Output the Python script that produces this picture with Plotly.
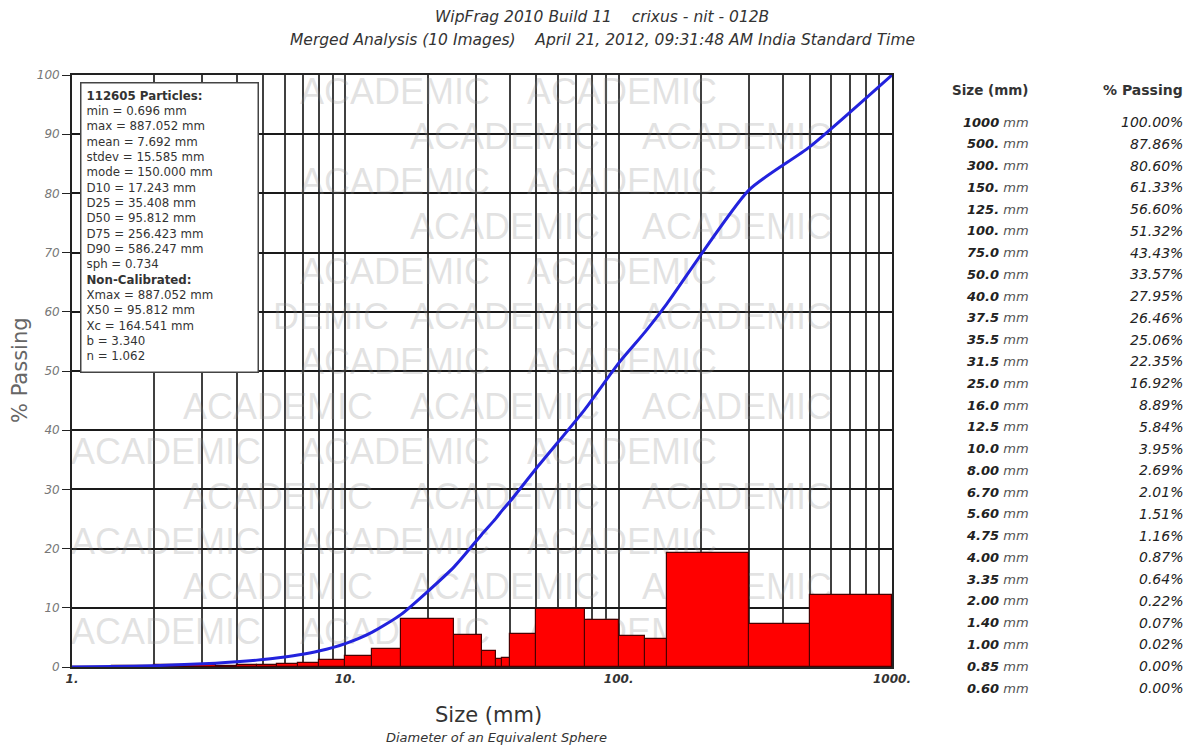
import numpy as np
import plotly.graph_objects as go

# Sieve sizes (mm) and cumulative percent passing, coarse to fine
sizes_mm = [1000, 500, 300, 150, 125, 100, 75.0, 50.0, 40.0, 37.5, 35.5, 31.5,
            25.0, 16.0, 12.5, 10.0, 8.00, 6.70, 5.60, 4.75, 4.00, 3.35, 2.00,
            1.40, 1.00, 0.85, 0.60]
size_labels = ["1000 mm", "500. mm", "300. mm", "150. mm", "125. mm", "100. mm",
               "75.0 mm", "50.0 mm", "40.0 mm", "37.5 mm", "35.5 mm", "31.5 mm",
               "25.0 mm", "16.0 mm", "12.5 mm", "10.0 mm", "8.00 mm", "6.70 mm",
               "5.60 mm", "4.75 mm", "4.00 mm", "3.35 mm", "2.00 mm", "1.40 mm",
               "1.00 mm", "0.85 mm", "0.60 mm"]
pct_passing = [100.00, 87.86, 80.60, 61.33, 56.60, 51.32, 43.43, 33.57, 27.95,
               26.46, 25.06, 22.35, 16.92, 8.89, 5.84, 3.95, 2.69, 2.01, 1.51,
               1.16, 0.87, 0.64, 0.22, 0.07, 0.02, 0.00, 0.00]
pct_labels = ["100.00%", "87.86%", "80.60%", "61.33%", "56.60%", "51.32%",
              "43.43%", "33.57%", "27.95%", "26.46%", "25.06%", "22.35%",
              "16.92%", "8.89%", "5.84%", "3.95%", "2.69%", "2.01%", "1.51%",
              "1.16%", "0.87%", "0.64%", "0.22%", "0.07%", "0.02%", "0.00%",
              "0.00%"]

major_ticks = [1, 10, 100, 1000]
major_tick_labels = ["1.", "10.", "100.", "1000."]
y_ticks = [0, 10, 20, 30, 40, 50, 60, 70, 80, 90, 100]

stats_lines = [
    "<b>112605 Particles:</b>",
    "min = 0.696 mm",
    "max = 887.052 mm",
    "mean = 7.692 mm",
    "stdev = 15.585 mm",
    "mode = 150.000 mm",
    "D10 = 17.243 mm",
    "D25 = 35.408 mm",
    "D50 = 95.812 mm",
    "D75 = 256.423 mm",
    "D90 = 586.247 mm",
    "sph = 0.734",
    "<b>Non-Calibrated:</b>",
    "Xmax = 887.052 mm",
    "X50 = 95.812 mm",
    "Xc = 164.541 mm",
    "b = 3.340",
    "n = 1.062",
]

title_line1 = "WipFrag 2010 Build 11&nbsp;&nbsp;&nbsp;&nbsp;crixus - nit - 012B"
title_line2 = ("Merged Analysis (10 Images)&nbsp;&nbsp;&nbsp;&nbsp;April 21, 2012, "
               "09:31:48 AM India Standard Time")

# ---- layout geometry (pixels) ----
W, H = 1186, 747
L, R, T, B = 72, 892, 75, 667
PW, PH = R - L, B - T


def px(x):
    return (x - L) / PW


def py(y):
    return (B - y) / PH


FONT = "DejaVu Sans"

# Histogram: share of material retained between consecutive sieves
lo = np.array(sizes_mm[1:], dtype=float)
hi = np.array(sizes_mm[:-1], dtype=float)
retained = np.array(pct_passing[:-1]) - np.array(pct_passing[1:])
bar_x = (np.log10(lo) + np.log10(hi)) / 2
bar_w = np.log10(hi) - np.log10(lo)

# Log grid positions (1-9 in each decade)
grid_sizes = [d * 10 ** k for k in range(3) for d in range(1, 10)] + [1000]
grid_text = [major_tick_labels[major_ticks.index(s)] if s in major_ticks else ""
             for s in grid_sizes]

fig = go.Figure()

# Background "ACADEMIC" tiling, drawn on an underlying pixel-aligned subplot
BOX_L, BOX_R, BOX_T, BOX_B = 80, 258, 82, 372
wm_x, wm_y, wm_t = [], [], []
row_ys = [95, 140, 185, 230, 275, 320, 365, 410, 455, 500, 545, 590, 635]
for i, yy in enumerate(row_ys):
    cols = [166, 395, 622] if i % 2 == 0 else [278, 505, 737]
    for xx in cols:
        if yy < BOX_B and xx - 95 < BOX_R:
            # only the tail of one tile shows beside the statistics box
            if xx == 278 and yy == 320:
                wm_x.append(px(331))
                wm_y.append(py(yy))
                wm_t.append("DEMIC")
            continue
        wm_x.append(px(xx))
        wm_y.append(py(yy))
        wm_t.append("ACADEMIC")
fig.add_trace(go.Scatter(
    x=wm_x, y=wm_y, mode="text", text=wm_t,
    textfont=dict(family="Liberation Sans", size=36,
                  color="rgba(140,140,140,0.25)"),
    hoverinfo="skip", showlegend=False, xaxis="x", yaxis="y"))

fig.add_trace(go.Bar(
    x=bar_x, y=retained, width=bar_w,
    marker=dict(color="#ff0000", line=dict(color="#4a0000", width=1.2)),
    showlegend=False, xaxis="x2", yaxis="y2"))

fig.add_trace(go.Scatter(
    x=np.log10(np.array(sizes_mm, dtype=float)), y=pct_passing, mode="lines",
    line=dict(color="#2222dd", width=3, shape="spline", smoothing=0.6),
    showlegend=False, xaxis="x2", yaxis="y2"))

annotations = []


def note(x, y, text, size, color="#333", xanchor="center", **font_kw):
    annotations.append(dict(
        xref="paper", yref="paper", x=px(x), y=py(y), xanchor=xanchor,
        yanchor="middle", text=text, showarrow=False,
        font=dict(family=FONT, size=size, color=color, **font_kw)))


# Title
note(602, 17, title_line1, 15.5, style="italic")
note(602, 40, title_line2, 15.5, style="italic")

# Axis titles
note(488, 715, "Size (mm)", 21)
note(496, 737, "Diameter of an Equivalent Sphere", 13, style="italic")
annotations.append(dict(xref="paper", yref="paper", x=px(20), y=py(370),
                        xanchor="center", yanchor="middle",
                        text="% Passing", textangle=-90, showarrow=False,
                        font=dict(family=FONT, size=21, color="#666")))

# Statistics box
annotations.append(dict(xref="paper", yref="paper", x=px(BOX_L), y=py(BOX_T),
                        xanchor="left", yanchor="top", align="left",
                        valign="top", width=BOX_R - BOX_L - 12,
                        height=BOX_B - BOX_T - 12, borderpad=5,
                        text="<br>".join(stats_lines), showarrow=False,
                        bgcolor="white", bordercolor="#444", borderwidth=1.5,
                        font=dict(family=FONT, size=11.8, color="#333")))

# Size / % passing table
note(1031, 90, "Size (mm)", 13.5, xanchor="right", weight="bold")
note(1185, 90, "% Passing", 14, xanchor="right", weight="bold")
row0, dy = 122, (688 - 122) / (len(sizes_mm) - 1)
for i, (sl, pl) in enumerate(zip(size_labels, pct_labels)):
    num, unit = sl.split(" ")
    yy = row0 + i * dy
    note(1031, yy, f"<b>{num}</b> <span style='color:#555'>{unit}</span>", 13,
         color="#222", xanchor="right", style="italic")
    note(1185, yy, pl, 14, color="#222", xanchor="right", style="italic")

fig.update_layout(
    width=W, height=H,
    margin=dict(l=L, r=W - R, t=T, b=H - B, pad=0),
    paper_bgcolor="white", plot_bgcolor="white",
    bargap=0,
    annotations=annotations,
    xaxis=dict(visible=False, range=[0, 1], fixedrange=True),
    yaxis=dict(visible=False, range=[0, 1], fixedrange=True),
    xaxis2=dict(overlaying="x", anchor="y2", range=[0, 3],
                tickvals=np.log10(grid_sizes), ticktext=grid_text,
                showgrid=True, gridcolor="#404040", gridwidth=1.8,
                zeroline=False, showline=True, linecolor="#222", linewidth=1.8,
                mirror=True, ticks="",
                tickfont=dict(family=FONT, size=12, color="#333",
                              style="italic", weight="bold")),
    yaxis2=dict(overlaying="y", anchor="x2", range=[0, 100],
                tickvals=y_ticks, showgrid=True, gridcolor="#1a1a1a",
                gridwidth=1.8, zeroline=False, showline=True, linecolor="#222",
                linewidth=1.8, mirror=True, ticks="outside", ticklen=8,
                tickcolor="#222", tickwidth=1.4,
                tickfont=dict(family=FONT, size=12, color="#777",
                              style="italic")),
)

fig.write_html("out.html")
